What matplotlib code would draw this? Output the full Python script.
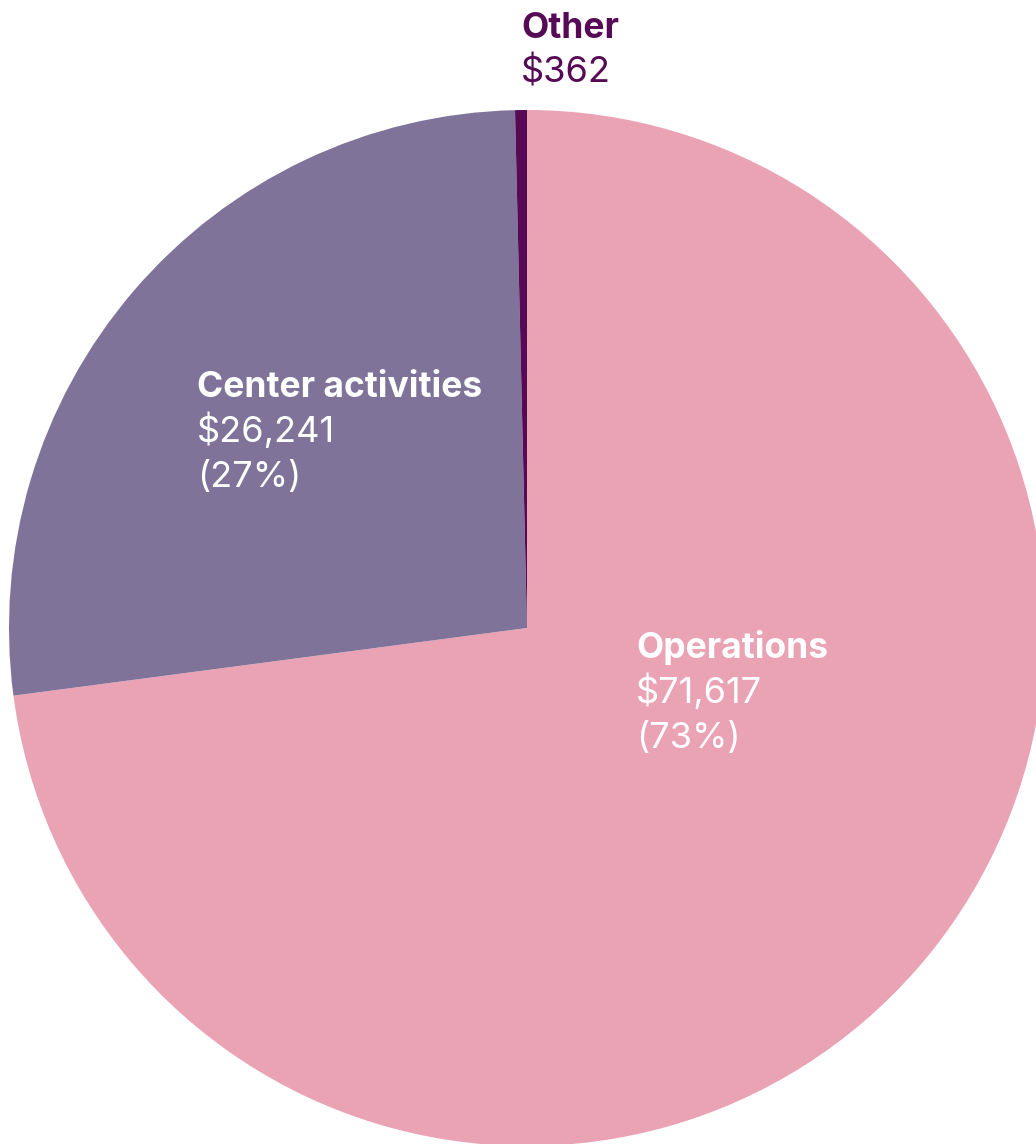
import matplotlib.pyplot as plt

# Spending breakdown
labels = ['Operations', 'Center activities', 'Other']
values = [71617, 26241, 362]
value_text = ['$71,617', '$26,241', '$362']
pct_text = ['(73%)', '(27%)', '']
colors = ['#EAA2B5', '#807399', '#560A55']

W, H = 1036, 1144
CX, CY, R = 527, 628, 518  # pie centre / radius in pixels

fig = plt.figure(figsize=(W / 100, H / 100), dpi=100)
ax = fig.add_axes([0, 0, 1, 1])

ax.pie(values, colors=colors, startangle=90, counterclock=False,
       wedgeprops={'linewidth': 0}, radius=1)
ax.set_xlim(-CX / R, (W - CX) / R)
ax.set_ylim((CY - H) / R, CY / R)
ax.set_aspect('auto')
ax.axis('off')


def px(x, y):
    # pixel (from top-left) -> figure fraction
    return x / W, 1 - y / H


def label(x, y, lines, color):
    # first line bold, rest regular; y is baseline of first line
    for i, txt in enumerate(lines):
        if not txt:
            continue
        fx, fy = px(x, y + i * 45)
        fig.text(fx, fy, txt, color=color,
                 fontsize=25.5 if i == 0 else 26, family='Inter',
                 fontweight='bold' if i == 0 else 'normal',
                 ha='left', va='baseline')


label(636, 658, [labels[0], value_text[0], pct_text[0]], 'white')
label(197, 397, [labels[1], value_text[1], pct_text[1]], 'white')
label(521, 38, [labels[2], value_text[2]], colors[2])

fig.savefig('out.png', dpi=100)
